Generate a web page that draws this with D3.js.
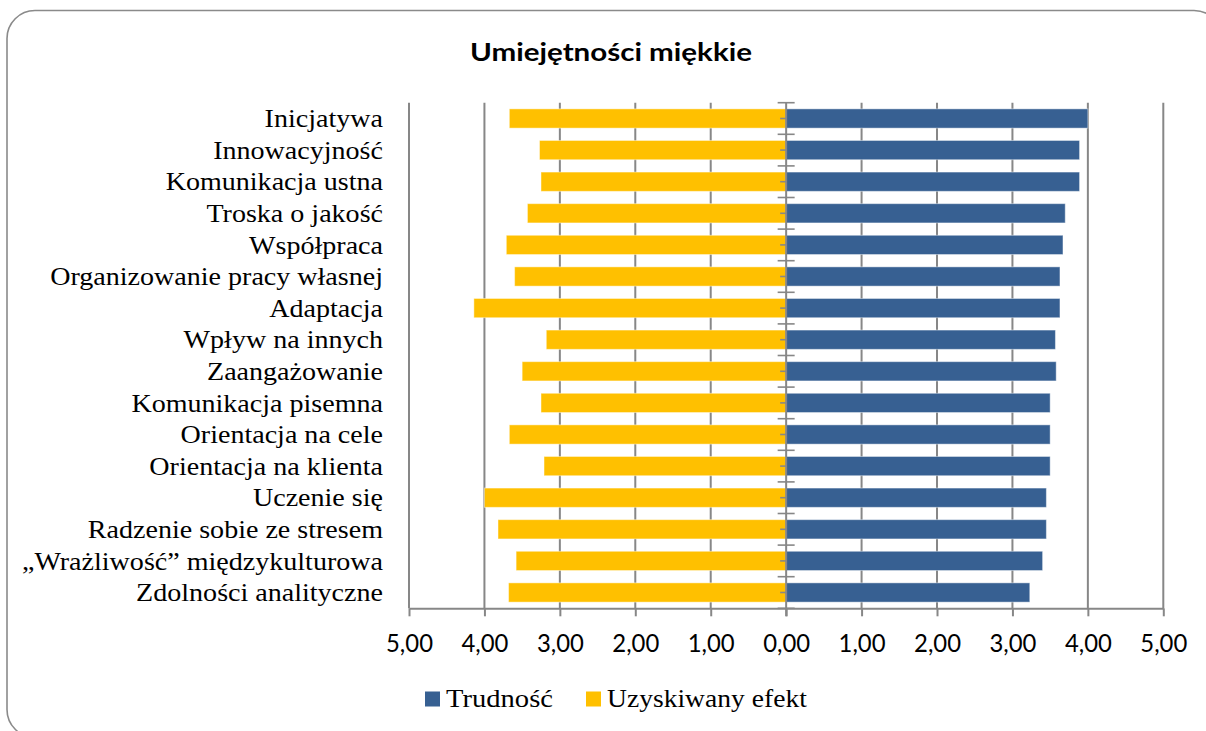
<!DOCTYPE html>
<html>
<head>
<meta charset="utf-8">
<script src="https://cdn.jsdelivr.net/npm/d3@7"></script>
<style>
  html, body { margin: 0; padding: 0; background: #fff; }
  svg { display: block; }
</style>
</head>
<body>
<svg id="chart" width="1206" height="731"></svg>
<script>
// ---- DATA ----
const title = "Umiejętności miękkie";
const categories = [
  "Inicjatywa",
  "Innowacyjność",
  "Komunikacja ustna",
  "Troska o jakość",
  "Współpraca",
  "Organizowanie pracy własnej",
  "Adaptacja",
  "Wpływ na innych",
  "Zaangażowanie",
  "Komunikacja pisemna",
  "Orientacja na cele",
  "Orientacja na klienta",
  "Uczenie się",
  "Radzenie sobie ze stresem",
  "„Wrażliwość” międzykulturowa",
  "Zdolności analityczne"
];
const trudnosc = [4.00, 3.89, 3.89, 3.70, 3.67, 3.63, 3.63, 3.57, 3.58, 3.50, 3.50, 3.50, 3.45, 3.45, 3.40, 3.23];
const efekt    = [3.67, 3.27, 3.25, 3.43, 3.71, 3.60, 4.14, 3.18, 3.50, 3.25, 3.67, 3.21, 4.00, 3.82, 3.58, 3.68];
const seriesNames = ["Trudność", "Uzyskiwany efekt"];
const tickValues = [-5, -4, -3, -2, -1, 0, 1, 2, 3, 4, 5];

// ---- STYLE ----
const BLUE = "#376092";
const YELLOW = "#FFC000";
const GRID = "#878787";
const serif = "'Liberation Serif', 'DejaVu Serif', serif";
const sans = "Lato, 'Open Sans', sans-serif";

const svg = d3.select("#chart");

// frame
svg.append("rect")
  .attr("x", 7).attr("y", 10.5)
  .attr("width", 1215).attr("height", 727)
  .attr("rx", 28).attr("ry", 28)
  .attr("fill", "#fff").attr("stroke", "#8a8a8a").attr("stroke-width", 1.6);

// helper: horizontal scale so that text at a given size reaches a target width
function measure(text, family, weight, size) {
  const t = svg.append("text").attr("font-family", family).attr("font-weight", weight)
    .attr("font-size", size).text(text);
  const w = t.node().getComputedTextLength();
  t.remove();
  return w;
}

const x = d3.scaleLinear().domain([-5, 5]).range([409, 1163.3]);
const y = d3.scaleBand().domain(categories).range([102.7, 608.3]).paddingInner(0.39).paddingOuter(0.195);
const rows = categories.map((c, i) => ({ cat: c, t: trudnosc[i], e: efekt[i] }));

// gridlines
const g = svg.append("g");
g.selectAll("line.grid").data(tickValues.filter(v => v !== 0)).join("line")
  .attr("class", "grid")
  .attr("x1", d => x(d)).attr("x2", d => x(d))
  .attr("y1", y.range()[0]).attr("y2", y.range()[1])
  .attr("stroke", GRID).attr("stroke-width", 2);

// bars
g.selectAll("rect.ef").data(rows).join("rect")
  .attr("class", "ef")
  .attr("x", d => x(-d.e)).attr("width", d => x(0) - x(-d.e))
  .attr("y", d => y(d.cat)).attr("height", y.bandwidth())
  .attr("fill", YELLOW).attr("stroke", "rgba(255,255,255,0.45)").attr("stroke-width", 1);
g.selectAll("rect.tr").data(rows).join("rect")
  .attr("class", "tr")
  .attr("x", x(0)).attr("width", d => x(d.t) - x(0))
  .attr("y", d => y(d.cat)).attr("height", y.bandwidth())
  .attr("fill", BLUE).attr("stroke", "rgba(255,255,255,0.45)").attr("stroke-width", 1);

// bottom axis
const fmt = d => d3.format(".2f")(Math.abs(d)).replace(".", ",");
const xAxis = d3.axisBottom(x).tickValues(tickValues).tickSize(8).tickSizeOuter(0).tickFormat(fmt);
const ax = svg.append("g").attr("transform", `translate(0,${y.range()[1]})`).call(xAxis);
ax.select(".domain").attr("stroke", GRID).attr("stroke-width", 2);
ax.selectAll(".tick line").attr("stroke", GRID).attr("stroke-width", 2);
const tickSize = 25.5;
const tickSx = 47 / measure("4,00", sans, 400, tickSize);
ax.selectAll(".tick text")
  .attr("font-family", sans).attr("font-size", tickSize).attr("fill", "#000")
  .attr("y", 0).attr("dy", 0)
  .attr("transform", `translate(0,43.5) scale(${tickSx},1)`);

// center axis
const cx = x(0);
svg.append("line").attr("x1", cx).attr("x2", cx)
  .attr("y1", y.range()[0]).attr("y2", y.range()[1] + 8)
  .attr("stroke", GRID).attr("stroke-width", 2);
const bounds = d3.range(categories.length + 1).map(i => y.range()[0] + i * y.step());
svg.selectAll("line.cross").data(bounds).join("line")
  .attr("x1", cx - 8.5).attr("x2", cx + 8.5)
  .attr("y1", d => d).attr("y2", d => d)
  .attr("stroke", GRID).attr("stroke-width", 1.6);
svg.selectAll("line.mid").data(categories).join("line")
  .attr("x1", cx - 6).attr("x2", cx)
  .attr("y1", d => y(d) + y.bandwidth() / 2).attr("y2", d => y(d) + y.bandwidth() / 2)
  .attr("stroke", GRID).attr("stroke-width", 1.6);

// category labels
const labSize = 25;
const labSx = 333 / measure("Organizowanie pracy własnej", serif, 400, labSize);
svg.append("g").selectAll("text").data(categories).join("text")
  .attr("transform", d => `translate(383,${y(d) + y.bandwidth() / 2 + 8.6}) scale(${labSx},1)`)
  .attr("text-anchor", "end")
  .attr("font-family", serif).attr("font-size", labSize).attr("fill", "#000")
  .text(d => d);

// title
const titleSize = 25.5;
const titleSx = 282 / measure(title, sans, 700, titleSize);
svg.append("text")
  .attr("transform", `translate(611,61) scale(${titleSx},1)`)
  .attr("text-anchor", "middle")
  .attr("font-family", sans).attr("font-weight", 700).attr("font-size", titleSize)
  .attr("fill", "#000").text(title);

// legend
const legend = [
  { name: seriesNames[0], color: BLUE, x: 425, w: 107 },
  { name: seriesNames[1], color: YELLOW, x: 586, w: 200 }
];
const lg = svg.append("g").selectAll("g").data(legend).join("g")
  .attr("transform", d => `translate(${d.x},691.5)`);
lg.append("rect").attr("width", 15).attr("height", 15).attr("fill", d => d.color);
lg.append("text")
  .attr("transform", d => `translate(21,15) scale(${d.w / measure(d.name, serif, 400, labSize)},1)`)
  .attr("font-family", serif).attr("font-size", labSize).attr("fill", "#000")
  .text(d => d.name);
</script>
</body>
</html>
